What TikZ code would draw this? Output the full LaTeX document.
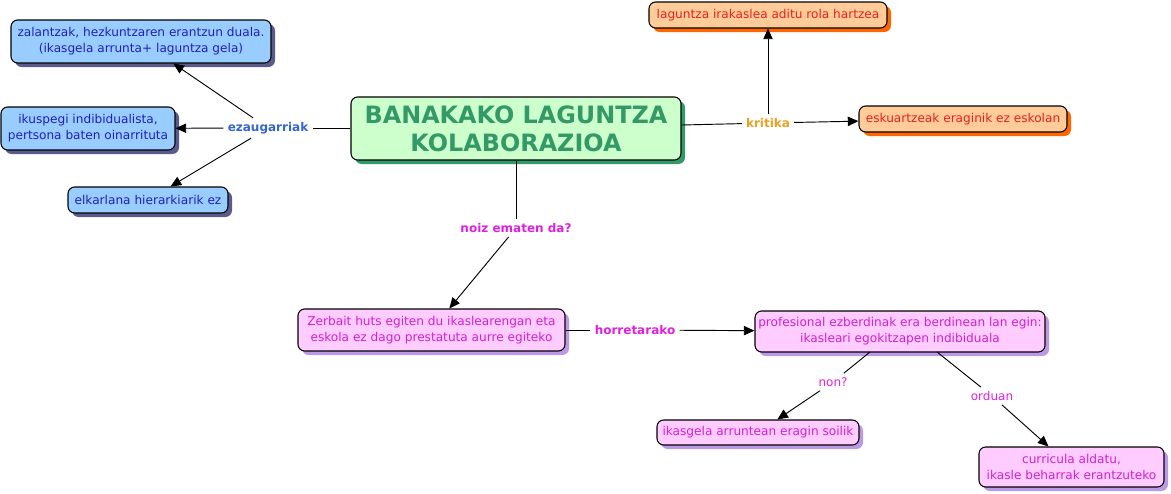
\documentclass[tikz,border=0pt]{standalone}
\usepackage{fontspec}
\setmainfont{DejaVu Sans}
\usetikzlibrary{shadows,arrows.meta}
\definecolor{bfill}{HTML}{99CCFF}
\definecolor{bshad}{HTML}{5A5A8C}
\definecolor{btext}{HTML}{2020B8}
\definecolor{gfill}{HTML}{CCFFCC}
\definecolor{gshad}{HTML}{339966}
\definecolor{gtext}{HTML}{339966}
\definecolor{ofill}{HTML}{FFCC99}
\definecolor{oshad}{HTML}{FF6600}
\definecolor{otext}{HTML}{E62020}
\definecolor{pfill}{HTML}{FFCCFF}
\definecolor{pshad}{HTML}{BB99E6}
\definecolor{ptext}{HTML}{D020D0}
\definecolor{lblue}{HTML}{3366CC}
\definecolor{lorange}{HTML}{E8A020}
\definecolor{lmag}{HTML}{E020E0}
\tikzset{
  x=0.75pt,y=-0.75pt,
  box/.style={draw=black,line width=0.8pt,rounded corners=5pt,align=center,inner sep=1pt,
    font=\fontsize{9.1}{11.8}\selectfont},
  bluebox/.style={box,fill=bfill,text=btext,general shadow={fill=bshad,shadow xshift=3pt,shadow yshift=-3pt}},
  greenbox/.style={box,fill=gfill,text=gtext,general shadow={fill=gshad,shadow xshift=3pt,shadow yshift=-3pt},
    font=\fontsize{17.9}{21}\selectfont\bfseries},
  orangebox/.style={box,fill=ofill,text=otext,general shadow={fill=oshad,shadow xshift=3pt,shadow yshift=-3pt}},
  pinkbox/.style={box,fill=pfill,text=ptext,general shadow={fill=pshad,shadow xshift=3pt,shadow yshift=-3pt}},
  lbl/.style={inner sep=3pt,font=\fontsize{9}{10}\selectfont\bfseries},
  lbln/.style={inner sep=3pt,font=\fontsize{9}{10}\selectfont},
  con/.style={draw=black,line width=0.7pt},
  arr/.style={con,-{Triangle[length=8pt,width=7pt]}},
}
\begin{document}
\begin{tikzpicture}
\useasboundingbox (0,0) rectangle (1171,493);
\node[bluebox,minimum width=195pt,minimum height=32.25pt] (n1) at (141,41.5) {zalantzak, hezkuntzaren erantzun duala.\\(ikasgela arrunta+ laguntza gela)};
\node[bluebox,minimum width=130.5pt,minimum height=32.25pt] (n2) at (88,128.5) {ikuspegi indibidualista,\\pertsona baten oinarrituta};
\node[bluebox,minimum width=120pt,minimum height=19.5pt] (n3) at (148,200) {elkarlana hierarkiarik ez};
\node[greenbox,minimum width=247.5pt,minimum height=47.25pt] (c) at (516,128.5) {BANAKAKO LAGUNTZA\\KOLABORAZIOA};
\node[orangebox,minimum width=178.5pt,minimum height=19.5pt] (n4) at (768,15) {laguntza irakaslea aditu rola hartzea};
\node[orangebox,minimum width=156pt,minimum height=19.5pt] (n5) at (963,119) {eskuartzeak eraginik ez eskolan};
\node[pinkbox,minimum width=200.25pt,minimum height=31.5pt] (n6) at (431.5,330) {Zerbait huts egiten du ikaslearengan eta\\eskola ez dago prestatuta aurre egiteko};
\node[pinkbox,minimum width=217.5pt,minimum height=30.75pt] (n7) at (900,331.5) {profesional ezberdinak era berdinean lan egin:\\ikasleari egokitzapen indibiduala};
\node[pinkbox,minimum width=151.5pt,minimum height=18.75pt] (n8) at (758,432.5) {ikasgela arruntean eragin soilik};
\node[pinkbox,minimum width=138.75pt,minimum height=30pt] (n9) at (1071.5,467) {curricula aldatu,\\ikasle beharrak erantzuteko};
% labels
\node[lbl,text=lblue] (l1) at (268,128) {ezaugarriak};
\node[lbl,text=lorange] (l2) at (768,123) {kritika};
\node[lbl,text=lmag] (l3) at (516,228) {noiz ematen da?};
\node[lbl,text=lmag] (l4) at (635,330) {horretarako};
\node[lbln,text=lmag] (l5) at (833,382) {non?};
\node[lbln,text=lmag] (l6) at (992,396) {orduan};
% connectors
\draw[con] (c.west|-l1) -- (l1);
\draw[arr] (l1) -- (n1);
\draw[arr] (l1) -- (n2);
\draw[arr] (l1) -- (n3);
\draw[con] (c.east|-0,125) -- (l2);
\draw[arr] (l2) -- (n4);
\draw[arr] (l2) -- (n5);
\draw[con] (c) -- (l3);
\draw[arr] (l3) -- (n6);
\draw[con] (n6) -- (l4);
\draw[arr] (l4) -- (n7);
\coordinate (a7) at (870,352);
\coordinate (b7) at (937,352);
\draw[con] (a7) -- (l5);
\draw[arr] (l5) -- (n8);
\draw[con] (b7) -- (l6);
\draw[arr] (l6) -- (n9);
\end{tikzpicture}
\end{document}
